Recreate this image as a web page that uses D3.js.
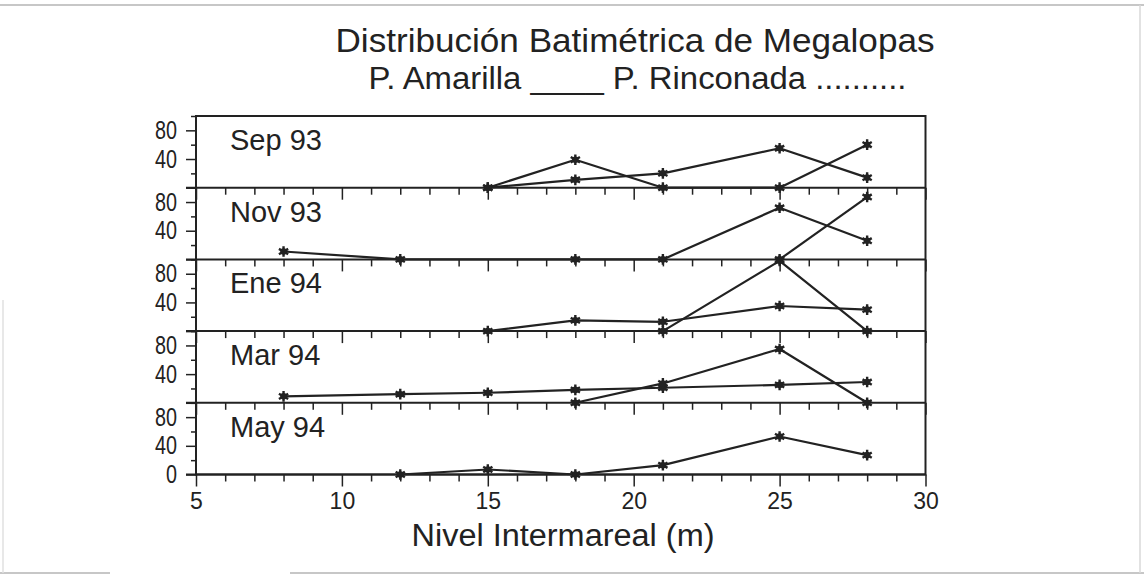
<!DOCTYPE html>
<html>
<head>
<meta charset="utf-8">
<script src="https://cdn.jsdelivr.net/npm/d3@7"></script>
<style>
  html, body { margin: 0; padding: 0; background: #fff; }
  svg { display: block; font-family: "Liberation Sans", Arial, Helvetica, sans-serif; }
</style>
</head>
<body>
<svg id="chart" width="1144" height="577"></svg>
<script>
// ---- data ----
const months = ["Sep 93", "Nov 93", "Ene 94", "Mar 94", "May 94"];
const xTicksMajor = [5, 10, 15, 20, 25, 30];
const yTicksMajor = [0, 40, 80];
const yTicksMinor = [20, 60, 100];

// P. Amarilla (first series)
const amarillaDepths = [
  [15, 18, 21, 25, 28],
  [8, 12, 18, 21, 25, 28],
  [15, 18, 21, 25, 28],
  [8, 12, 15, 18, 21, 25, 28],
  [12, 15, 18, 21, 25, 28]
];
const amarillaValues = [
  [0, 39, 0, 0, 60],
  [11, 0, 0, 0, 72, 26],
  [0, 15, 13, 35, 30],
  [9, 12, 14, 18, 21, 25, 29],
  [0, 7, 0, 13, 53, 27]
];
// P. Rinconada (second series)
const rinconadaDepths = [
  [15, 18, 21, 25, 28],
  [25, 28],
  [21, 25, 28],
  [18, 21, 25, 28],
  []
];
const rinconadaValues = [
  [0, 11, 20, 55, 14],
  [0, 87],
  [0, 98, 0],
  [0, 27, 75, 0],
  []
];

const titleText = "Distribución Batimétrica de Megalopas";
const subtitleText = "P. Amarilla ____ P. Rinconada ..........";
const xTitleText = "Nivel Intermareal (m)";

// ---- layout ----
const svg = d3.select("#chart");
const ink = "#222";
const left = 196, right = 925.5, top0 = 116, bottom = 474.5;
const ph = (bottom - top0) / months.length;

const x = d3.scaleLinear().domain([5, 30]).range([left, right]);
const xMinor = d3.range(5, 31, 1).filter(v => v % 5 !== 0);

// scan frame around the image
const frame = svg.append("g").attr("stroke", "#b5b5b5").attr("stroke-width", 1.5);
frame.append("line").attr("x1", 0).attr("x2", 1144).attr("y1", 5).attr("y2", 5);
frame.append("line").attr("x1", 0).attr("x2", 110).attr("y1", 573).attr("y2", 573);
frame.append("line").attr("x1", 290).attr("x2", 1144).attr("y1", 573).attr("y2", 573);
frame.append("line").attr("x1", 1140).attr("x2", 1140).attr("y1", 5).attr("y2", 573).attr("stroke", "#d8d8d8");
frame.append("line").attr("x1", 3).attr("x2", 3).attr("y1", 300).attr("y2", 573).attr("stroke", "#e0e0e0");

// titles
svg.append("text").attr("x", 635).attr("y", 52).attr("text-anchor", "middle")
  .attr("font-size", 34).attr("fill", ink)
  .attr("textLength", 599).attr("lengthAdjust", "spacingAndGlyphs").text(titleText);
svg.append("text").attr("x", 637.5).attr("y", 89).attr("text-anchor", "middle")
  .attr("font-size", 31).attr("fill", ink)
  .attr("textLength", 538).attr("lengthAdjust", "spacingAndGlyphs").text(subtitleText);

const line = d3.line().x(d => x(d[0]));

months.forEach((m, i) => {
  const pTop = top0 + i * ph, pBot = pTop + ph;
  const y = d3.scaleLinear().domain([0, 100]).range([pBot, pTop]);
  const g = svg.append("g");
  const last = i === months.length - 1;

  // y axis major
  const ay = g.append("g").attr("transform", `translate(${left},0)`)
    .call(d3.axisLeft(y).tickValues(yTicksMajor).tickSize(10).tickPadding(9)
      .tickFormat(d => (d === 0 && !last) ? "" : d));
  ay.select(".domain").remove();
  ay.selectAll("line").attr("stroke", ink).attr("stroke-width", 1.5);
  ay.selectAll("text").attr("font-size", 25).attr("fill", ink)
    .attr("font-family", "Liberation Sans, Arial, sans-serif")
    .attr("lengthAdjust", "spacingAndGlyphs")
    .attr("textLength", d => String(d).length * 11);
  // y axis minor
  const ayM = g.append("g").attr("transform", `translate(${left},0)`)
    .call(d3.axisLeft(y).tickValues(yTicksMinor).tickSize(5).tickFormat(""));
  ayM.select(".domain").remove();
  ayM.selectAll("line").attr("stroke", ink).attr("stroke-width", 1.5);

  // x ticks at panel baseline
  const ax = g.append("g").attr("transform", `translate(0,${pBot})`)
    .call(d3.axisBottom(x).tickValues(xTicksMajor).tickSize(12).tickPadding(6)
      .tickFormat(d => last ? d : ""));
  ax.select(".domain").remove();
  ax.selectAll("line").attr("stroke", ink).attr("stroke-width", 1.5);
  ax.selectAll("text").attr("font-size", 23).attr("fill", ink)
    .attr("font-family", "Liberation Sans, Arial, sans-serif");
  const axM = g.append("g").attr("transform", `translate(0,${pBot})`)
    .call(d3.axisBottom(x).tickValues(xMinor).tickSize(7).tickFormat(""));
  axM.select(".domain").remove();
  axM.selectAll("line").attr("stroke", ink).attr("stroke-width", 1.5);

  // baseline divider
  g.append("line").attr("x1", left - 10).attr("x2", right).attr("y1", pBot).attr("y2", pBot)
    .attr("stroke", ink).attr("stroke-width", 2);

  // panel label
  g.append("text").attr("x", 230).attr("y", pTop + 34).attr("font-size", 29)
    .attr("fill", ink).text(m);

  // series
  const series = [
    d3.zip(amarillaDepths[i], amarillaValues[i]),
    d3.zip(rinconadaDepths[i], rinconadaValues[i])
  ];
  series.forEach(pts => {
    if (!pts.length) return;
    line.y(d => y(d[1]));
    g.append("path").attr("d", line(pts)).attr("fill", "none")
      .attr("stroke", ink).attr("stroke-width", 2.2).attr("stroke-linejoin", "round");
    pts.forEach(p => {
      const px = x(p[0]), py = y(p[1]);
      g.append("path").attr("transform", `translate(${px},${py})`)
        .attr("d", d3.symbol(d3.symbolAsterisk, 80)())
        .attr("stroke", ink).attr("stroke-width", 2.4).attr("fill", "none");
      g.append("path").attr("transform", `translate(${px},${py})`)
        .attr("d", d3.symbol(d3.symbolCircle, 34)())
        .attr("fill", ink);
    });
  });
});

// plot frame
svg.append("rect").attr("x", left).attr("y", top0).attr("width", right - left)
  .attr("height", bottom - top0).attr("fill", "none").attr("stroke", ink).attr("stroke-width", 2);

// x axis title
svg.append("text").attr("x", 563).attr("y", 546).attr("text-anchor", "middle")
  .attr("font-size", 31).attr("fill", ink)
  .attr("textLength", 303).attr("lengthAdjust", "spacingAndGlyphs").text(xTitleText);
</script>
</body>
</html>
